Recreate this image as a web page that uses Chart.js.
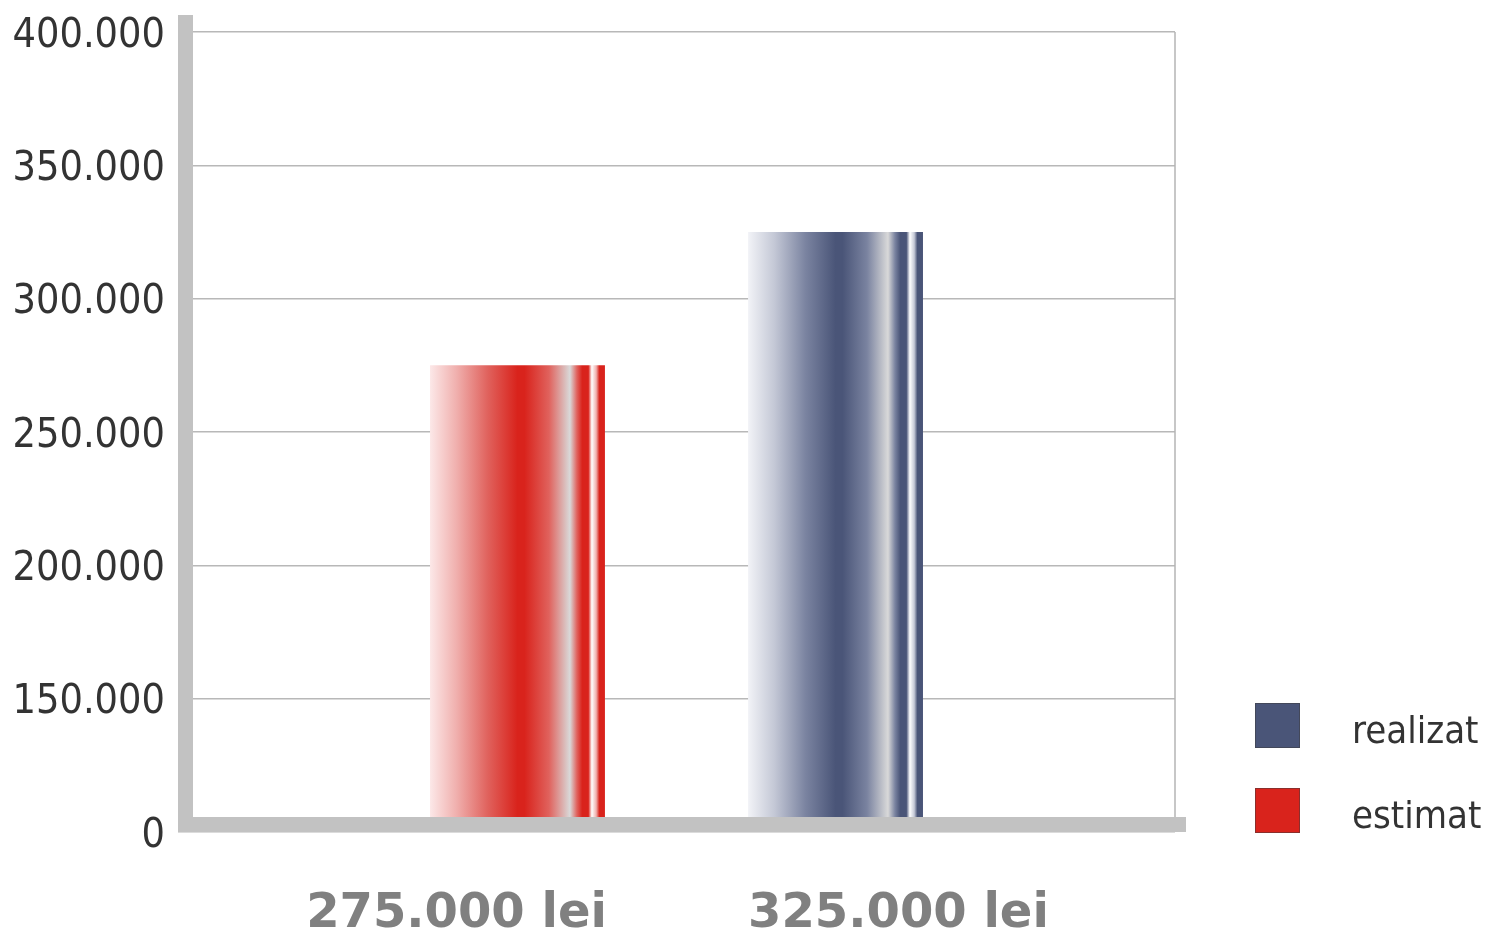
<!DOCTYPE html>
<html>
<head>
<meta charset="utf-8">
<script src="https://cdn.jsdelivr.net/npm/chart.js@4.4.1/dist/chart.umd.min.js"></script>
<style>
  html, body { margin: 0; padding: 0; background: #fff; }
  #wrap { width: 1486px; height: 934px; position: relative; }
</style>
</head>
<body>
<div id="wrap"><canvas id="chart"></canvas></div>
<script>
"use strict";
// data
var categories = ["buget"];
var seriesNames = ["estimat", "realizat"];
var estimatValues = [275000];
var realizatValues = [325000];
var yTickValues = [100000, 150000, 200000, 250000, 300000, 350000, 400000];
var yTickLabels = ["0", "150.000", "200.000", "250.000", "300.000", "350.000", "400.000"];

var redSolid = "#d9231c", blueSolid = "#4a5578";

function stops(light, mid, soft) {
    return [
        [0, light], [0.15, soft[0]], [0.33, soft[1]], [0.5, mid], [0.54, mid],
        [0.68, soft[1]], [0.8, "#d9d9d9"], [0.84, soft[1]], [0.87, mid], [0.905, mid],
        [0.925, "#ffffff"], [0.95, soft[0]], [0.968, mid], [1, mid]
    ];
}
var redStops = stops("#fce8e8", redSolid, ["#f0b0ae", "#e0625d"]);
var blueStops = stops("#f2f3f7", blueSolid, ["#c4c8d6", "#7a83a0"]);

function fmt(v) {
    return String(v).replace(/\B(?=(\d{3})+(?!\d))/g, ".");
}

function barFill(st, solid) {
    return function(c) {
        var el = c.chart.getDatasetMeta(c.datasetIndex).data[c.dataIndex];
        if (!el || !el.width) return solid;
        var x0 = el.x - el.width / 2, x1 = el.x + el.width / 2;
        var g = c.chart.ctx.createLinearGradient(x0, 0, x1, 0);
        st.forEach(function(s) { g.addColorStop(s[0], s[1]); });
        return g;
    };
}

var frame = {
    id: "frame",
    afterDatasetsDraw: function(chart) {
        var ctx = chart.ctx, a = chart.chartArea;
        ctx.save();
        // right border
        ctx.strokeStyle = "#b4b4b4";
        ctx.lineWidth = 1.5;
        ctx.beginPath();
        ctx.moveTo(a.right, a.top);
        ctx.lineTo(a.right, a.bottom);
        ctx.stroke();
        // thick axes
        ctx.fillStyle = "#c2c2c2";
        ctx.fillRect(a.left, 15, 15, a.bottom - 15);
        ctx.fillRect(a.left, a.bottom - 15, a.right - a.left + 11, 15);
        ctx.restore();
    },
    afterDraw: function(chart) {
        var ctx = chart.ctx;
        ctx.save();
        // value labels under bars
        ctx.font = "bold 48px 'DejaVu Sans'";
        ctx.fillStyle = "#808080";
        ctx.textBaseline = "alphabetic";
        chart.data.datasets.forEach(function(ds, i) {
            var el = chart.getDatasetMeta(i).data[0];
            var txt = fmt(ds.data[0]) + " lei";
            if (i === 0) {
                ctx.textAlign = "right";
                ctx.fillText(txt, el.x + el.width / 2 + 2, 927);
            } else {
                ctx.textAlign = "left";
                ctx.fillText(txt, el.x - el.width / 2, 927);
            }
        });
        // legend (reverse order)
        ctx.font = "38px 'DejaVu Sans Condensed', 'DejaVu Sans'";
        ctx.textAlign = "left";
        var order = [1, 0];
        order.forEach(function(di, k) {
            var ds = chart.data.datasets[di];
            var y = 703 + k * 85;
            ctx.fillStyle = ds.legendColor;
            ctx.fillRect(1255, y, 45, 45);
            ctx.strokeStyle = "rgba(60,60,60,0.5)";
            ctx.lineWidth = 1;
            ctx.strokeRect(1255.5, y + 0.5, 44, 44);
            ctx.fillStyle = "#333333";
            ctx.fillText(ds.label, 1352, y + 40);
        });
        ctx.restore();
    }
};

var chart = new Chart(document.getElementById("chart"), {
    type: "bar",
    data: {
        labels: categories,
        datasets: [{
            label: seriesNames[0],
            data: estimatValues,
            backgroundColor: barFill(redStops, redSolid),
            legendColor: redSolid,
            borderWidth: 0
        }, {
            label: seriesNames[1],
            data: realizatValues,
            backgroundColor: barFill(blueStops, blueSolid),
            legendColor: blueSolid,
            borderWidth: 0
        }]
    },
    options: {
        responsive: true,
        maintainAspectRatio: false,
        animation: false,
        events: [],
        layout: { padding: { top: 32, right: 311, bottom: 102, left: 0 } },
        categoryPercentage: 0.638,
        barPercentage: 0.55,
        plugins: {
            legend: { display: false },
            tooltip: { enabled: false },
            title: { display: false }
        },
        scales: {
            x: { display: false },
            y: {
                min: 100000,
                max: 400000,
                afterFit: function(s) { s.width = 178; s.paddingTop = 0; s.paddingBottom = 0; },
                afterBuildTicks: function(s) {
                    s.ticks = yTickValues.map(function(v) { return { value: v }; });
                },
                border: { display: false },
                grid: { color: "#b8b8b8", lineWidth: 1.5, drawTicks: false },
                ticks: {
                    padding: 13,
                    labelOffset: 4,
                    color: "#333333",
                    font: { family: "'DejaVu Sans Condensed', 'DejaVu Sans'", size: 41, lineHeight: 1 },
                    callback: function(v) {
                        var i = yTickValues.indexOf(v);
                        return i < 0 ? "" : yTickLabels[i];
                    }
                }
            }
        }
    },
    plugins: [frame]
});
chart.update();
</script>
</body>
</html>
